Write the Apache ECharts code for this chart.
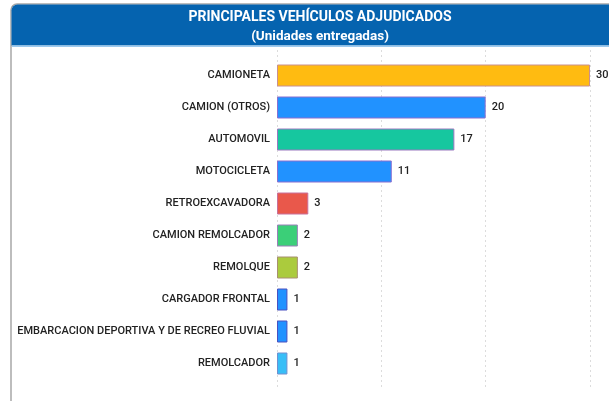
<!DOCTYPE html>
<html>
<head>
<meta charset="utf-8">
<script src="https://cdn.jsdelivr.net/npm/echarts@6/dist/echarts.min.js"></script>
<style>
  html, body { margin: 0; padding: 0; background: #fff; }
  #chart { width: 609px; height: 401px; }
</style>
</head>
<body>
<div id="chart"></div>
<script>
const categories = [
  'CAMIONETA', 'CAMION (OTROS)', 'AUTOMOVIL', 'MOTOCICLETA', 'RETROEXCAVADORA',
  'CAMION REMOLCADOR', 'REMOLQUE', 'CARGADOR FRONTAL',
  'EMBARCACION DEPORTIVA Y DE RECREO FLUVIAL', 'REMOLCADOR'
]
const values = [30, 20, 17, 11, 3, 2, 2, 1, 1, 1]
const colors = [
  '#FFBB11', '#2192FF', '#16C79F', '#2192FF', '#E9584B',
  '#3BCF78', '#ABCB3D', '#2192FF', '#2192FF', '#38BEF7'
]
const borders = [
  '#C9908F', '#8A6FD0', '#9A78C0', '#8A6FD0', '#C8709A',
  '#9A80B8', '#A89070', '#4A50C0', '#4A50C0', '#7090D0'
]
const xTicks = { min: 0, max: 30, interval: 10 }

const font = 'Roboto, "Noto Sans", sans-serif'

var myChart = echarts.init(document.getElementById('chart'))

const option = {
  backgroundColor: '#fff',
  animation: false,
  graphic: [
    {
      type: 'rect',
      shape: { x: 11, y: 4, width: 700, height: 500, r: 6 },
      style: { fill: '#fff', stroke: '#a8a8a8', lineWidth: 1.5 },
      z: -10
    },
    {
      type: 'rect',
      shape: { x: 11.5, y: 4.5, width: 700, height: 41, r: [6, 0, 0, 0] },
      style: { fill: '#0563AF' },
      z: -9
    },
    {
      type: 'rect',
      shape: { x: 12, y: 45.5, width: 700, height: 1.5 },
      style: { fill: '#9CC9EE' },
      z: -9
    }
  ],
  title: [
    {
      text: 'PRINCIPALES VEHÍCULOS ADJUDICADOS',
      left: 315, top: 5, textAlign: 'center',
      textStyle: { color: '#fff', fontSize: 14, fontWeight: 'bold', fontFamily: font }
    },
    {
      text: '(Unidades entregadas)',
      left: 315, top: 24.5, textAlign: 'center',
      textStyle: { color: '#fff', fontSize: 13.5, fontWeight: 'bold', fontFamily: font }
    }
  ],
  grid: [
    { left: 277, right: 19, top: 59.5, bottom: 21.5 },
    { left: 277, right: 19, top: 50, bottom: 14 }
  ],
  xAxis: [
    {
      type: 'value', gridIndex: 0,
      min: xTicks.min, max: xTicks.max, interval: xTicks.interval,
      axisLabel: { show: false }, axisLine: { show: false }, axisTick: { show: false },
      splitLine: { show: false }
    },
    {
      type: 'value', gridIndex: 1,
      min: xTicks.min, max: xTicks.max, interval: xTicks.interval,
      axisLabel: { show: false }, axisLine: { show: false }, axisTick: { show: false },
      splitLine: { show: true, lineStyle: { color: '#dcdcdc', type: [2, 3], width: 1 } }
    }
  ],
  yAxis: [
    {
      type: 'category', gridIndex: 0, inverse: true,
      data: categories,
      axisLine: { show: false }, axisTick: { show: false },
      axisLabel: { color: '#222', fontSize: 11, fontWeight: 500, fontFamily: font, margin: 7 }
    },
    {
      type: 'value', gridIndex: 1, show: false
    }
  ],
  series: [
    {
      type: 'bar',
      xAxisIndex: 0, yAxisIndex: 0,
      barWidth: 22,
      data: values.map((v, i) => ({
        value: v,
        itemStyle: { color: colors[i], borderColor: borders[i], borderWidth: 1 }
      })),
      label: {
        show: true, position: 'right', distance: 6,
        color: '#222', fontSize: 11, fontWeight: 500, fontFamily: font
      }
    }
  ]
}

myChart.setOption(option)

window.addEventListener('resize', () => {
  myChart.resize()
})
</script>
</body>
</html>
